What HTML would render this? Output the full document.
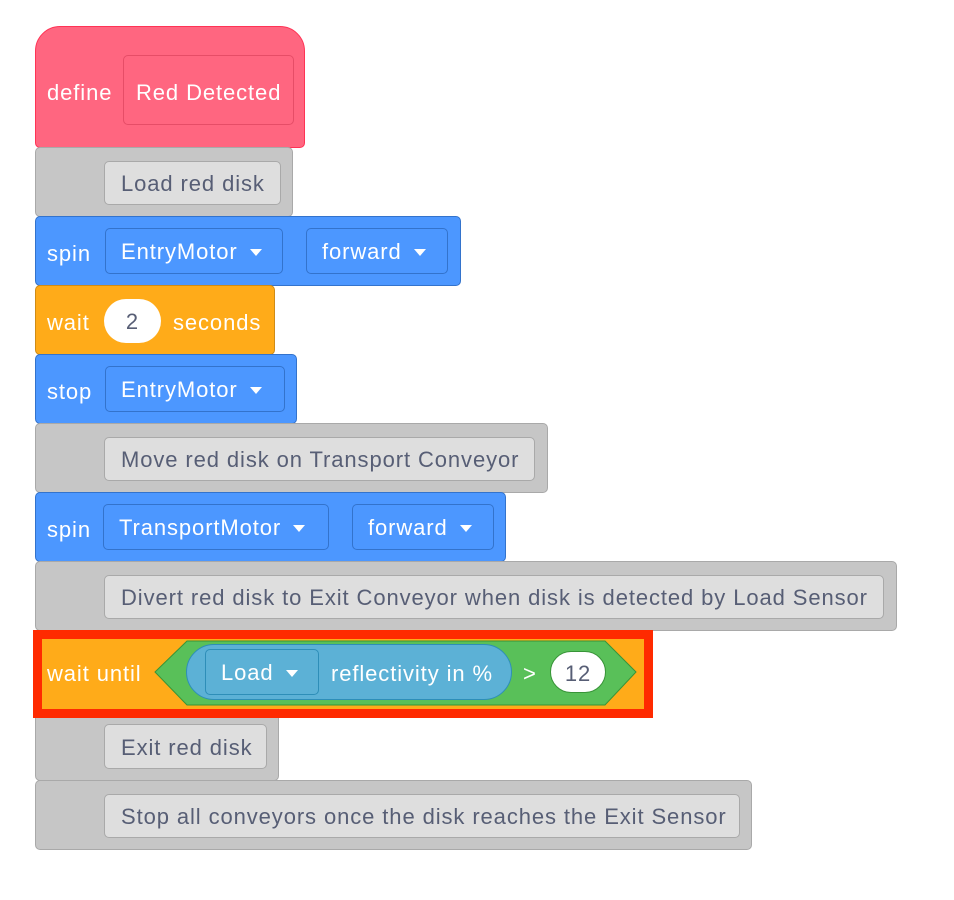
<!DOCTYPE html>
<html><head><style>
body{margin:0;width:954px;height:900px;background:#fff;position:relative;overflow:hidden;font-family:"Liberation Sans",sans-serif;font-size:22px;letter-spacing:0.9px}
.b{position:absolute;box-sizing:border-box;border-radius:5px}
.t{position:absolute;color:#fff;line-height:1;white-space:nowrap}
.gray{background:#c6c6c6;border:1px solid #a9a9a9}
.in{position:absolute;box-sizing:border-box;background:#dedede;border:1px solid #a9a9a9;border-radius:5px;color:#575e75;padding-left:16px;padding-top:2px;display:flex;align-items:center;white-space:nowrap}
.blue{background:#4c97ff;border:1px solid #3373cc}
.dd{position:absolute;box-sizing:border-box;border:1px solid #3373cc;border-radius:5px;color:#fff;padding-left:15px;padding-top:2px;display:flex;align-items:center}
.dd:after{content:"";border-left:6px solid transparent;border-right:6px solid transparent;border-top:7px solid #fff;margin-left:12px}
.or{background:#ffab19;border:1px solid #cf8b17}
</style></head><body>
<!-- define -->
<div class="b" style="left:35px;top:26px;width:270px;height:122px;background:#ff6680;border:1px solid #ff3355;border-radius:25px 25px 5px 5px"></div>
<div class="t" style="left:47px;top:82px">define</div>
<div class="b" style="left:123px;top:55px;width:171px;height:70px;border:1px solid #e64d67;background:#ff6680"></div>
<div class="t" style="left:136px;top:82px">Red Detected</div>

<div class="b gray" style="left:35px;top:147px;width:258px;height:70px"></div>
<div class="in" style="left:104px;top:161px;width:177px;height:44px">Load red disk</div>

<div class="b blue" style="left:35px;top:216px;width:426px;height:70px"></div>
<div class="t" style="left:47px;top:243px">spin</div>
<div class="dd" style="left:105px;top:228px;width:178px;height:46px">EntryMotor</div>
<div class="dd" style="left:306px;top:228px;width:142px;height:46px">forward</div>

<div class="b or" style="left:35px;top:285px;width:240px;height:70px"></div>
<div class="t" style="left:47px;top:312px">wait</div>
<div class="b" style="left:104px;top:299px;width:57px;height:44px;background:#fff;border-radius:22px;color:#575e75;text-align:center;line-height:46px">2</div>
<div class="t" style="left:173px;top:312px">seconds</div>

<div class="b blue" style="left:35px;top:354px;width:262px;height:70px"></div>
<div class="t" style="left:47px;top:381px">stop</div>
<div class="dd" style="left:105px;top:366px;width:180px;height:46px">EntryMotor</div>

<div class="b gray" style="left:35px;top:423px;width:513px;height:70px"></div>
<div class="in" style="left:104px;top:437px;width:431px;height:44px">Move red disk on Transport Conveyor</div>

<div class="b blue" style="left:35px;top:492px;width:471px;height:70px"></div>
<div class="t" style="left:47px;top:519px">spin</div>
<div class="dd" style="left:103px;top:504px;width:226px;height:46px">TransportMotor</div>
<div class="dd" style="left:352px;top:504px;width:142px;height:46px">forward</div>

<div class="b gray" style="left:35px;top:561px;width:862px;height:70px"></div>
<div class="in" style="left:104px;top:575px;width:780px;height:44px">Divert red disk to Exit Conveyor when disk is detected by Load Sensor</div>

<div class="b gray" style="left:35px;top:700px;width:244px;height:81px"></div>
<div class="in" style="left:104px;top:724px;width:163px;height:45px">Exit red disk</div>

<div class="b gray" style="left:35px;top:780px;width:717px;height:70px"></div>
<div class="in" style="left:104px;top:794px;width:636px;height:44px">Stop all conveyors once the disk reaches the Exit Sensor</div>

<!-- wait until -->
<div style="position:absolute;left:33px;top:630px;width:620px;height:88px;box-sizing:border-box;border:9px solid #ff2a00;background:#ffab19"></div>
<div class="t" style="left:47px;top:663px">wait until</div>
<svg style="position:absolute;left:0;top:0" width="954" height="900">
<polygon points="155,672 187,641 605,641 636,672 605,705 187,705" fill="#59c059" stroke="#389438" stroke-width="1"/>
</svg>
<div class="b" style="left:186px;top:644px;width:326px;height:56px;background:#5cb1d6;border:1px solid #2e8eb8;border-radius:28px"></div>
<div class="dd" style="left:205px;top:649px;width:114px;height:46px;border-color:#2e8eb8">Load</div>
<div class="t" style="left:331px;top:663px">reflectivity in %</div>
<div class="t" style="left:523px;top:663px">&gt;</div>
<div class="b" style="left:550px;top:651px;width:56px;height:42px;background:#fff;border:1px solid #389438;border-radius:21px;color:#575e75;text-align:center;line-height:43px">12</div>
</body></html>
